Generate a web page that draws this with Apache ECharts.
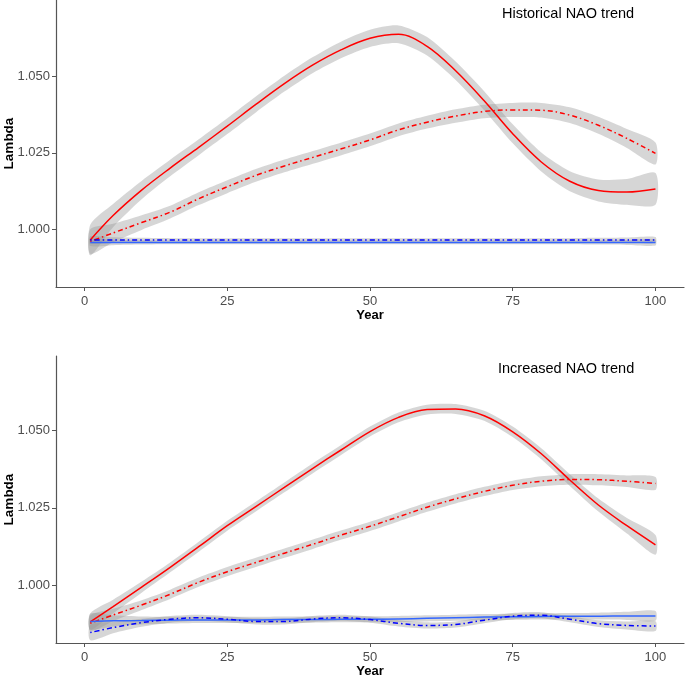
<!DOCTYPE html>
<html>
<head>
<meta charset="utf-8">
<script src="https://cdn.jsdelivr.net/npm/echarts@6/dist/echarts.min.js"></script>
<style>
html,body{margin:0;padding:0;background:#fff;}
#chart{width:685px;height:679px;}
</style>
</head>
<body>
<div id="chart"></div>
<script>
// ---- data ----
const years = [1,5,10,15,20,25,30,35,40,45,50,55,60,65,70,75,80,85,90,95,100];
const xTicks = [0,25,50,75,100];
const yTicks = [1.000,1.025,1.050];

// Top panel: Historical NAO trend
const histRedSolid   = [0.9965,1.0045,1.0128,1.0200,1.0268,1.0337,1.0408,1.0476,1.0537,1.0587,1.0624,1.0637,1.0598,1.0518,1.0420,1.0312,1.0220,1.0157,1.0127,1.0122,1.0132];
const histRedSolidSe = [0.0050,0.0038,0.0030,0.0027,0.0026,0.0026,0.0026,0.0026,0.0026,0.0027,0.0028,0.0029,0.0030,0.0030,0.0031,0.0031,0.0031,0.0033,0.0036,0.0042,0.0052];
const histRedDash    = [0.9960,0.9988,1.0022,1.0056,1.0100,1.0139,1.0176,1.0207,1.0235,1.0263,1.0292,1.0325,1.0350,1.0370,1.0385,1.0390,1.0389,1.0373,1.0340,1.0297,1.0248];
const histRedDashSe  = [0.0040,0.0030,0.0024,0.0021,0.0021,0.0021,0.0021,0.0021,0.0021,0.0021,0.0021,0.0021,0.0021,0.0022,0.0022,0.0023,0.0024,0.0026,0.0028,0.0031,0.0036];
const histBlueSolid  = [0.9957,0.9957,0.9957,0.9957,0.9957,0.9957,0.9957,0.9957,0.9957,0.9957,0.9957,0.9957,0.9957,0.9957,0.9957,0.9957,0.9957,0.9957,0.9957,0.9957,0.9957];
const histBlueSolidSe= [0.0012,0.0009,0.0007,0.0006,0.0006,0.0006,0.0006,0.0006,0.0006,0.0006,0.0006,0.0006,0.0006,0.0006,0.0006,0.0006,0.0006,0.0006,0.0007,0.0008,0.0010];
const histBlueDash   = [0.9965,0.9965,0.9965,0.9965,0.9965,0.9965,0.9965,0.9965,0.9965,0.9965,0.9965,0.9965,0.9965,0.9965,0.9965,0.9965,0.9965,0.9965,0.9965,0.9965,0.9965];
const histBlueDashSe = [0.0012,0.0009,0.0007,0.0006,0.0006,0.0006,0.0006,0.0006,0.0006,0.0006,0.0006,0.0006,0.0006,0.0006,0.0006,0.0006,0.0006,0.0006,0.0007,0.0008,0.0010];

// Bottom panel: Increased NAO trend
const incRedSolid    = [0.9881,0.9930,0.9993,1.0057,1.0124,1.0192,1.0254,1.0316,1.0378,1.0438,1.0497,1.0543,1.0568,1.0570,1.0548,1.0496,1.0425,1.0340,1.0259,1.0192,1.0130];
const incRedSolidSe  = [0.0027,0.0022,0.0018,0.0016,0.0016,0.0016,0.0016,0.0016,0.0016,0.0016,0.0016,0.0016,0.0016,0.0016,0.0016,0.0017,0.0018,0.0019,0.0021,0.0025,0.0032];
const incRedDash     = [0.9876,0.9903,0.9935,0.9970,1.0009,1.0043,1.0073,1.0103,1.0132,1.0162,1.0190,1.0221,1.0252,1.0279,1.0303,1.0323,1.0336,1.0342,1.0341,1.0336,1.0329];
const incRedDashSe   = [0.0025,0.0020,0.0016,0.0015,0.0015,0.0015,0.0015,0.0015,0.0015,0.0015,0.0015,0.0015,0.0015,0.0015,0.0015,0.0015,0.0016,0.0017,0.0018,0.0019,0.0021];
const incBlueSolid   = [0.9882,0.9884,0.9885,0.9886,0.9887,0.9887,0.9887,0.9888,0.9888,0.9889,0.9889,0.9890,0.9892,0.9894,0.9896,0.9897,0.9898,0.9899,0.9899,0.9900,0.9900];
const incBlueSolidSe = [0.0025,0.0018,0.0013,0.0011,0.0010,0.0010,0.0010,0.0010,0.0010,0.0010,0.0010,0.0010,0.0010,0.0010,0.0010,0.0010,0.0010,0.0010,0.0011,0.0013,0.0016];
const incBlueDash    = [0.9846,0.9862,0.9878,0.9889,0.9894,0.9889,0.9882,0.9882,0.9890,0.9894,0.9888,0.9876,0.9869,0.9872,0.9886,0.9899,0.9902,0.9889,0.9875,0.9869,0.9867];
const incBlueDashSe  = [0.0025,0.0018,0.0013,0.0011,0.0010,0.0010,0.0010,0.0010,0.0010,0.0010,0.0010,0.0010,0.0010,0.0010,0.0010,0.0010,0.0010,0.0010,0.0011,0.0013,0.0016];

// ---- styles ----
const FONT = "'Liberation Sans', Arial, sans-serif";
const RED = '#FF0000', BLUE_SOLID = '#3366FF', BLUE_DASH = '#0000FF';
const DASHDOT = [1.5, 3, 5, 3];
const RIBBON = 'rgba(153,153,153,0.4)';

function pairs(vals){ return years.map((y,i)=>[y, vals[i]]); }

function ribbon(vals, se, gi){
  return {
    type: 'custom',
    xAxisIndex: gi, yAxisIndex: gi,
    silent: true,
    clip: true,
    data: [[years[0], vals[0]]],
    renderItem: function(params, api){
      const up = years.map((y,i)=>api.coord([y, vals[i]+se[i]]));
      const lo = years.map((y,i)=>api.coord([y, vals[i]-se[i]])).reverse();
      return {
        type: 'group',
        children: [{
          type: 'polygon',
          shape: { points: up.concat(lo), smooth: 0.25 },
          style: { fill: RIBBON, stroke: null }
        }]
      };
    },
    z: 1
  };
}

function line(vals, color, dash, gi){
  return {
    type: 'line',
    xAxisIndex: gi, yAxisIndex: gi,
    data: pairs(vals),
    showSymbol: false,
    symbol: 'none',
    smooth: 0.35,
    lineStyle: { color: color, width: 1.5, type: dash },
    silent: true,
    z: 3
  };
}

function xAxis(gi){
  return {
    type: 'value', gridIndex: gi, min: -5, max: 105,
    name: 'Year', nameLocation: 'middle', nameGap: 22, nameMoveOverlap: false,
    nameTextStyle: { fontFamily: FONT, fontSize: 13, fontWeight: 'bold', color: '#000' },
    axisLine: { show: true, onZero: false, lineStyle: { color: '#555', width: 1.2 } },
    axisTick: { show: true, length: 4, lineStyle: { color: '#555' }, customValues: xTicks },
    axisLabel: { fontFamily: FONT, fontSize: 13, color: '#4D4D4D', margin: 8, customValues: xTicks,
      formatter: v => String(v) },
    splitLine: { show: false }
  };
}
function yAxis(gi, min, max){
  return {
    type: 'value', gridIndex: gi, min: min, max: max,
    name: 'Lambda', nameLocation: 'middle', nameGap: 40, nameRotate: 90, nameMoveOverlap: false,
    nameTextStyle: { fontFamily: FONT, fontSize: 13.5, fontWeight: 'bold', color: '#000' },
    axisLine: { show: true, onZero: false, lineStyle: { color: '#555', width: 1.2 } },
    axisTick: { show: true, length: 4, lineStyle: { color: '#555' }, customValues: yTicks },
    axisLabel: { fontFamily: FONT, fontSize: 13, color: '#4D4D4D', margin: 6, customValues: yTicks,
      formatter: v => v.toFixed(3) },
    splitLine: { show: false }
  };
}

const chart = echarts.init(document.getElementById('chart'), null, { renderer: 'canvas' });
chart.setOption({
  animation: false,
  backgroundColor: '#fff',
  title: [
    { text: 'Historical NAO trend', left: 497, top: 1,
      textStyle: { fontFamily: FONT, fontSize: 14.5, fontWeight: 'normal', color: '#000' } },
    { text: 'Increased NAO trend', left: 493, top: 356,
      textStyle: { fontFamily: FONT, fontSize: 14.5, fontWeight: 'normal', color: '#000' } }
  ],
  grid: [
    { left: 56, top: 0, width: 628, height: 287, outerBoundsMode: 'none', containLabel: false },
    { left: 56, top: 356, width: 628, height: 287, outerBoundsMode: 'none', containLabel: false }
  ],
  xAxis: [xAxis(0), xAxis(1)],
  yAxis: [yAxis(0, 0.98114, 1.07493), yAxis(1, 0.98122, 1.07416)],
  series: [
    ribbon(histRedSolid, histRedSolidSe, 0),
    ribbon(histRedDash, histRedDashSe, 0),
    ribbon(histBlueSolid, histBlueSolidSe, 0),
    ribbon(histBlueDash, histBlueDashSe, 0),
    line(histRedSolid, RED, 'solid', 0),
    line(histRedDash, RED, DASHDOT, 0),
    line(histBlueSolid, BLUE_SOLID, 'solid', 0),
    line(histBlueDash, BLUE_DASH, DASHDOT, 0),

    ribbon(incRedSolid, incRedSolidSe, 1),
    ribbon(incRedDash, incRedDashSe, 1),
    ribbon(incBlueSolid, incBlueSolidSe, 1),
    ribbon(incBlueDash, incBlueDashSe, 1),
    line(incRedSolid, RED, 'solid', 1),
    line(incRedDash, RED, DASHDOT, 1),
    line(incBlueSolid, BLUE_SOLID, 'solid', 1),
    line(incBlueDash, BLUE_DASH, DASHDOT, 1)
  ]
});
</script>
</body>
</html>
